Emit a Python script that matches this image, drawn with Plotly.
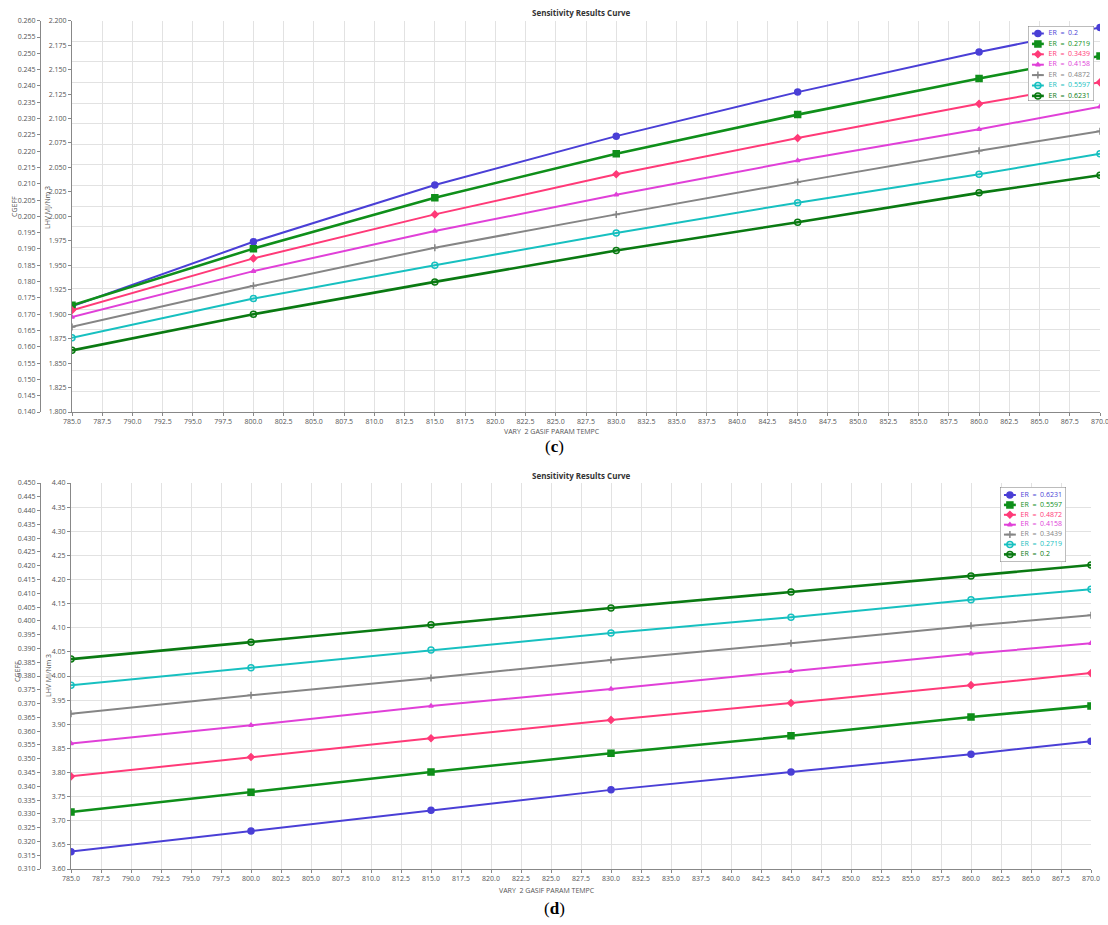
import plotly.graph_objects as go

# Gasifier temperature sweep (deg C)
temps = [785, 800, 815, 830, 845, 860, 870]

# Panel (c): LHV (MJ/Nm3) for each equivalence ratio
er_c = ["0.2", "0.2719", "0.3439", "0.4158", "0.4872", "0.5597", "0.6231"]
lhv_c_0 = [1.908, 1.974, 2.032, 2.082, 2.127, 2.168, 2.193]
lhv_c_1 = [1.909, 1.967, 2.019, 2.064, 2.104, 2.141, 2.164]
lhv_c_2 = [1.904, 1.957, 2.002, 2.043, 2.080, 2.115, 2.137]
lhv_c_3 = [1.897, 1.944, 1.985, 2.022, 2.057, 2.089, 2.112]
lhv_c_4 = [1.887, 1.929, 1.968, 2.002, 2.035, 2.067, 2.087]
lhv_c_5 = [1.876, 1.916, 1.950, 1.983, 2.014, 2.043, 2.064]
lhv_c_6 = [1.863, 1.900, 1.933, 1.965, 1.994, 2.024, 2.042]

# Panel (d): LHV (MJ/Nm3) for each equivalence ratio
er_d = ["0.6231", "0.5597", "0.4872", "0.4158", "0.3439", "0.2719", "0.2"]
lhv_d_0 = [3.636, 3.679, 3.722, 3.764, 3.801, 3.838, 3.865]
lhv_d_1 = [3.718, 3.759, 3.801, 3.840, 3.876, 3.915, 3.938]
lhv_d_2 = [3.792, 3.832, 3.871, 3.909, 3.944, 3.981, 4.006]
lhv_d_3 = [3.860, 3.898, 3.938, 3.973, 4.010, 4.046, 4.068]
lhv_d_4 = [3.922, 3.960, 3.996, 4.033, 4.068, 4.104, 4.126]
lhv_d_5 = [3.981, 4.017, 4.054, 4.089, 4.122, 4.158, 4.180]
lhv_d_6 = [4.035, 4.070, 4.106, 4.141, 4.174, 4.207, 4.230]

series_c = [lhv_c_0, lhv_c_1, lhv_c_2, lhv_c_3, lhv_c_4, lhv_c_5, lhv_c_6]
series_d = [lhv_d_0, lhv_d_1, lhv_d_2, lhv_d_3, lhv_d_4, lhv_d_5, lhv_d_6]

colors = ["#4a3fd6", "#0f8f1a", "#ff3a78", "#e040d8", "#858585", "#17c0c0", "#0a7a12"]
symbols = ["circle", "square", "diamond", "triangle-up", "cross-thin", "circle-open", "circle-open"]
widths = [2, 2.6, 2, 2, 2, 2, 2.6]
msizes = [6, 6, 5, 4, 5, 6, 6]

W, H = 1108, 925
FONT = "Open Sans"
TICKC = "#555555"
GRIDC = "#e2e2e2"


def fx(px):
    return px / W


def fy(py):
    return 1 - py / H


def marker_for(i, size):
    return dict(symbol=symbols[i], size=size, color=colors[i],
                line=dict(color=colors[i], width=1.5))


fig = go.Figure()

# ---- data curves -------------------------------------------------------
for i, ys in enumerate(series_c):
    fig.add_trace(go.Scatter(
        x=temps, y=ys, xaxis="x", yaxis="y", mode="lines+markers",
        line=dict(color=colors[i], width=widths[i]),
        marker=marker_for(i, msizes[i]), showlegend=False,
        name=f"ER = {er_c[i]}",
    ))

for i, ys in enumerate(series_d):
    fig.add_trace(go.Scatter(
        x=temps, y=ys, xaxis="x2", yaxis="y4", mode="lines+markers",
        line=dict(color=colors[i], width=widths[i]),
        marker=marker_for(i, msizes[i]), showlegend=False,
        name=f"ER = {er_d[i]}",
    ))

# empty traces so the secondary (CGEFF) axes and grid helper get drawn
for ya, xa in [("y2", "x"), ("y3", "x"), ("y5", "x2")]:
    fig.add_trace(go.Scatter(x=[None], y=[None], xaxis=xa, yaxis=ya,
                             showlegend=False, hoverinfo="skip"))


# ---- compact legend boxes (own small subplot each) ----------------------
def add_legend_box(labels, xa, ya, first_off, step, box_h):
    # white framed box
    fig.add_trace(go.Scatter(
        x=[0, 1, 1, 0, 0], y=[0, 0, 1, 1, 0], xaxis=xa, yaxis=ya,
        mode="lines", fill="toself", fillcolor="white",
        line=dict(color="#7a7a7a", width=1), cliponaxis=False,
        showlegend=False, hoverinfo="skip"))
    for i, er in enumerate(labels):
        yy = 1 - (first_off + step * i) / box_h
        fig.add_trace(go.Scatter(
            x=[0.06, 0.15, 0.24], y=[yy, yy, yy], xaxis=xa, yaxis=ya,
            mode="lines+markers+text",
            text=["", "", f"ER  =  {er}"], textposition="middle right",
            textfont=dict(family=FONT, size=7, color=colors[i]),
            line=dict(color=colors[i], width=widths[i]),
            marker=dict(symbol=symbols[i], size=[6, msizes[i], 6],
                        opacity=[0, 1, 0],
                        color=colors[i], line=dict(color=colors[i], width=1.5)),
            cliponaxis=False, showlegend=False, hoverinfo="skip"))


add_legend_box(er_c, "x3", "y6", 7.5, 10.4, 75)
add_legend_box(er_d, "x4", "y7", 8, 9.9, 75)

tickfont = dict(family=FONT, size=7, color=TICKC)

xcommon = dict(
    range=[785, 870], dtick=2.5, tick0=785, tickformat=".1f",
    showgrid=True, gridcolor=GRIDC, gridwidth=1,
    showline=True, linecolor="#888888", linewidth=1,
    ticks="outside", ticklen=3, tickcolor="#888888",
    tickfont=tickfont, zeroline=False, automargin=False,
    ticklabeloverflow="allow",
)

ycommon = dict(
    showline=True, linecolor="#888888", linewidth=1,
    ticks="outside", ticklen=3, tickcolor="#888888",
    tickfont=tickfont, zeroline=False, automargin=False,
)

hidden = dict(visible=False, range=[0, 1], fixedrange=True)

# Panel (c) domains
c_x = [fx(72), fx(1100)]
c_y = [fy(412), fy(20.7)]
# Panel (d) domains
d_x = [fx(71), fx(1091)]
d_y = [fy(869), fy(483)]

fig.update_layout(
    width=W, height=H, autosize=False,
    margin=dict(l=0, r=0, t=0, b=0, pad=0, autoexpand=False),
    paper_bgcolor="white", plot_bgcolor="rgba(0,0,0,0)",
    showlegend=False,
    xaxis=dict(domain=c_x, anchor="y", **xcommon),
    yaxis=dict(domain=c_y, anchor="x", range=[1.8, 2.2], dtick=0.025,
               tickformat=".3f", showgrid=False, **ycommon),
    yaxis2=dict(overlaying="y", anchor="free", position=fx(40), side="left",
                range=[0.14, 0.26], dtick=0.005, tickformat=".3f",
                showgrid=False, **ycommon),
    yaxis3=dict(overlaying="y", anchor="x", range=[0, 19], dtick=1,
                showgrid=True, gridcolor=GRIDC, showticklabels=False,
                showline=False, ticks="", zeroline=False),
    xaxis2=dict(domain=d_x, anchor="y4", **xcommon),
    yaxis4=dict(domain=d_y, anchor="x2", range=[3.6, 4.4], dtick=0.05,
                tickformat=".2f", showgrid=True, gridcolor=GRIDC, **ycommon),
    yaxis5=dict(overlaying="y4", anchor="free", position=fx(40), side="left",
                range=[0.31, 0.45], dtick=0.005, tickformat=".3f",
                showgrid=False, **ycommon),
    xaxis3=dict(domain=[fx(1028), fx(1094)], anchor="y6", **hidden),
    yaxis6=dict(domain=[fy(101), fy(26)], anchor="x3", **hidden),
    xaxis4=dict(domain=[fx(1000), fx(1066)], anchor="y7", **hidden),
    yaxis7=dict(domain=[fy(562), fy(487)], anchor="x4", **hidden),
)

ann = []
for ytitle in (13, 475):
    ann.append(dict(x=fx(581), y=fy(ytitle), xref="paper", yref="paper",
                    xanchor="center", yanchor="middle",
                    text="<b>Sensitivity Results Curve</b>", showarrow=False,
                    font=dict(family=FONT, size=8, color="#333333")))
for (xc, yc), txt in [((15, 207), "CGEFF"), ((47, 208), "LHV MJ/Nm 3"),
                      ((17, 672), "CGEFF"), ((48, 676), "LHV MJ/Nm 3")]:
    ann.append(dict(x=fx(xc), y=fy(yc), xref="paper", yref="paper",
                    xanchor="center", yanchor="middle",
                    text=txt, textangle=-90, showarrow=False,
                    font=dict(family=FONT, size=7, color=TICKC)))
for (xl, yl) in [(502, 431), (497, 890)]:
    ann.append(dict(x=fx(xl), y=fy(yl), xref="paper", yref="paper",
                    xanchor="left", yanchor="middle",
                    text="VARY  2 GASIF PARAM TEMPC", showarrow=False,
                    font=dict(family=FONT, size=7, color=TICKC)))
for (yl, txt) in [(447, "(<b>c</b>)"), (908, "(<b>d</b>)")]:
    ann.append(dict(x=fx(554), y=fy(yl), xref="paper", yref="paper",
                    xanchor="center", yanchor="middle",
                    text=txt, showarrow=False,
                    font=dict(family="Liberation Serif", size=17, color="black")))
fig.update_layout(annotations=ann)

# page without the default body margin so the figure fills the window exactly
fig.write_html("out.html",
               post_script="document.body.style.margin='0';"
                           "document.body.style.overflow='hidden';")
